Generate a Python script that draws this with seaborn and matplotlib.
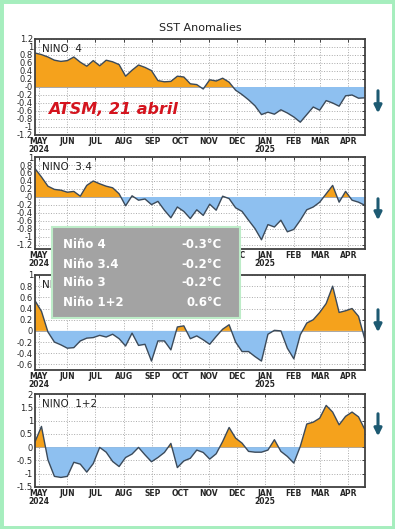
import numpy as np
import pandas as pd
import matplotlib
matplotlib.use("Agg")
import matplotlib.pyplot as plt
from matplotlib.patches import Rectangle, FancyArrowPatch
import seaborn as sns

# weekly values, first week starts a few days before 1 May 2024
nino4 = [0.85, 0.81, 0.75, 0.67, 0.64, 0.66, 0.75, 0.62, 0.52, 0.66, 0.53, 0.67, 0.63,
         0.56, 0.27, 0.42, 0.55, 0.49, 0.41, 0.16, 0.13, 0.14, 0.27, 0.25, 0.08, 0.06,
         -0.05, 0.18, 0.15, 0.22, 0.12, -0.08, -0.19, -0.32, -0.47, -0.69, -0.63, -0.68,
         -0.57, -0.65, -0.75, -0.88, -0.69, -0.50, -0.58, -0.34, -0.40, -0.48, -0.22,
         -0.20, -0.28, -0.27]
nino34 = [0.71, 0.50, 0.27, 0.19, 0.17, 0.12, 0.14, 0.02, 0.29, 0.40, 0.33, 0.27, 0.23,
          0.08, -0.22, 0.03, -0.08, -0.05, -0.19, -0.11, -0.33, -0.52, -0.25, -0.36,
          -0.54, -0.32, -0.46, -0.18, -0.33, 0.02, -0.04, -0.27, -0.36, -0.58, -0.79,
          -1.07, -0.69, -0.75, -0.58, -0.87, -0.81, -0.58, -0.32, -0.25, -0.13, 0.08,
          0.29, -0.13, 0.14, -0.08, -0.13, -0.21]
nino3 = [0.54, 0.35, -0.02, -0.20, -0.25, -0.31, -0.30, -0.18, -0.13, -0.12, -0.08, -0.11,
         -0.06, -0.14, -0.27, -0.04, -0.26, -0.24, -0.54, -0.18, -0.18, -0.34, 0.07, 0.09,
         -0.14, -0.09, -0.16, -0.24, -0.10, 0.03, 0.11, -0.20, -0.37, -0.37, -0.46, -0.54,
         -0.06, 0.01, 0.00, -0.31, -0.50, -0.07, 0.14, 0.20, 0.33, 0.49, 0.80, 0.33, 0.36,
         0.40, 0.26, -0.16]
nino12 = [0.20, 0.78, -0.48, -1.10, -1.14, -1.10, -0.57, -0.64, -0.94, -0.62, -0.01, -0.19,
          -0.54, -0.73, -0.39, -0.26, -0.01, -0.29, -0.55, -0.39, -0.20, 0.14, -0.77, -0.52,
          -0.42, -0.11, -0.20, -0.45, -0.25, 0.21, 0.74, 0.34, 0.15, -0.16, -0.19, -0.19,
          -0.11, 0.28, -0.16, -0.35, -0.60, 0.03, 0.87, 0.94, 1.09, 1.57, 1.32, 0.84, 1.16,
          1.32, 1.14, 0.65]

panel_names = ["NINO  4", "NINO  3.4", "NINO  3", "NINO  1+2"]
month_labels = ["MAY\n2024", "JUN", "JUL", "AUG", "SEP", "OCT", "NOV", "DEC",
                "JAN\n2025", "FEB", "MAR", "APR"]
month_days = [0, 31, 61, 92, 123, 153, 184, 214, 245, 276, 304, 335]

summary_names = ["Niño 4", "Niño 3.4", "Niño 3", "Niño 1+2"]
summary_values = ["-0.3°C", "-0.2°C", "-0.2°C", "0.6°C"]

days = -4 + 7 * np.arange(len(nino4))
df = pd.DataFrame({"day": days, "NINO  4": nino4, "NINO  3.4": nino34,
                   "NINO  3": nino3, "NINO  1+2": nino12})

sns.set_style("white")
plt.rcParams["font.family"] = ["DejaVu Sans"]

fig = plt.figure(figsize=(3.95, 5.29), dpi=100)
W, H = 395, 529

# axes boxes in pixels: (top, bottom)
boxes = [(39, 135), (157, 249), (275, 370), (394, 487)]
ylims = [(-1.2, 1.2), (-1.3, 1.0), (-0.7, 1.0), (-1.5, 2.0)]
yticks = [np.arange(-1.2, 1.21, 0.2), np.arange(-1.2, 1.01, 0.2),
          np.arange(-0.6, 1.01, 0.2), np.arange(-1.5, 2.01, 0.5)]

orange = "#F5A21C"
blue = "#8EC0F0"
line_c = "#3B4A5A"

for k, name in enumerate(panel_names):
    top, bot = boxes[k]
    ax = fig.add_axes([35 / W, (H - bot) / H, 330 / W, (bot - top) / H])
    y = df[name].values
    ax.fill_between(df["day"], y, 0, where=y >= 0, interpolate=True, color=orange, lw=0)
    ax.fill_between(df["day"], y, 0, where=y <= 0, interpolate=True, color=blue, lw=0)
    sns.lineplot(data=df, x="day", y=name, ax=ax, color=line_c, lw=1.0)
    ax.axhline(0, color="#666666", lw=0.4, zorder=0)
    ax.set_xlim(-4, 353)
    ax.set_ylim(*ylims[k])
    ax.set_yticks(yticks[k])
    ax.set_yticklabels(["%g" % round(v, 1) for v in yticks[k]], fontsize=6)
    ax.set_xticks(month_days)
    ax.set_xticklabels(month_labels, fontsize=5.5, fontweight="bold", linespacing=0.9)
    ax.set_xlabel("")
    ax.set_ylabel("")
    ax.grid(True, ls=":", color="#AAAAAA", lw=0.7)
    ax.tick_params(axis="both", direction="in", length=2, width=0.6, pad=1.5,
                   top=True, right=True)
    for s in ax.spines.values():
        s.set_color("#404040")
        s.set_linewidth(1.3)
    ax.text(0.02, 0.95, name, transform=ax.transAxes, va="top", ha="left",
            fontsize=7.5, color="#222222")

fig.text(200 / W, (H - 28) / H, "SST Anomalies", ha="center", va="center",
         fontsize=8, fontweight="medium", color="#222222")

fig.text(48 / W, (H - 110) / H, "ATSM, 21 abril", ha="left", va="center",
         fontsize=11.5, fontweight="bold", fontstyle="italic", color="#D4141E",
         zorder=10)

# summary box
fig.patches.append(Rectangle((52 / W, (H - 318) / H), 188 / W, 91 / H,
                             transform=fig.transFigure, facecolor="#A3A3A3",
                             edgecolor="#BDECC8", lw=1.5, zorder=20))
for r, (nm, val) in enumerate(zip(summary_names, summary_values)):
    yy = (H - (245 + 19 * r)) / H
    fig.text(63 / W, yy, nm, ha="left", va="center", fontsize=8.5,
             fontweight="bold", color="white", zorder=21)
    fig.text(222 / W, yy, val, ha="right", va="center", fontsize=8.5,
             fontweight="bold", color="white", zorder=21)

# down arrows
for top_px, bot_px in [(88, 116), (196, 223), (307, 335), (411, 439)]:
    fig.add_artist(FancyArrowPatch((378 / W, (H - top_px) / H), (378 / W, (H - bot_px) / H),
                                   transform=fig.transFigure, arrowstyle="-|>",
                                   mutation_scale=11, lw=2.2, color="#1D5A72"))

# green frame
fig.patches.append(Rectangle((0, 0), 1, 1, transform=fig.transFigure, fill=False,
                             edgecolor="#A6EEBE", lw=5, zorder=30))

fig.savefig("out.png", dpi=100)
